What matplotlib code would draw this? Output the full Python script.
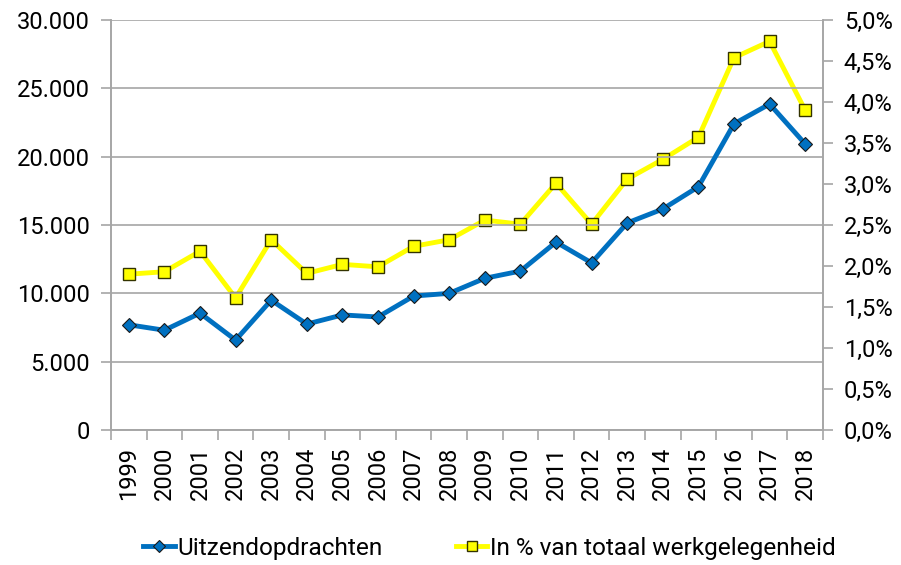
import matplotlib
matplotlib.use("Agg")
import matplotlib.pyplot as plt
from matplotlib.ticker import FuncFormatter, MultipleLocator
import numpy as np

plt.rcParams['font.family'] = ['Roboto', 'DejaVu Sans']

years = [str(y) for y in range(1999, 2019)]
uitzend = [7700, 7300, 8550, 6580, 9500, 7750, 8420, 8270, 9800, 10000,
           11100, 11630, 13750, 12230, 15150, 16170, 17800, 22400, 23850, 20930]
pct = [1.90, 1.93, 2.18, 1.61, 2.32, 1.91, 2.02, 1.99, 2.24, 2.32,
       2.56, 2.51, 3.01, 2.51, 3.06, 3.30, 3.57, 4.54, 4.74, 3.90]

grid_c = '#A6A6A6'
blue = '#0070C0'
yellow = '#FFFF00'
fs = 17

fig = plt.figure(figsize=(9.01, 5.65), dpi=100)
ax = fig.add_axes([111/901, 1-430/565, (823-111)/901, (430-20)/565])
ax2 = ax.twinx()

x = np.arange(len(years))
l2, = ax2.plot(x, pct, color=yellow, lw=3.5, marker='s', ms=9,
               mfc=yellow, mec='#333300', mew=1.0, zorder=3,
               label='In % van totaal werkgelegenheid')
l1, = ax.plot(x, uitzend, color=blue, lw=3.5, marker='D', ms=7.5,
              mfc=blue, mec='#1a1a1a', mew=0.8, zorder=3,
              label='Uitzendopdrachten')

ax.set_zorder(ax2.get_zorder() + 1)
ax.patch.set_visible(False)

ax.set_xlim(-0.5, len(years) - 0.5)
ax.set_ylim(0, 30000)
ax2.set_ylim(0, 5.0)
ax.yaxis.set_major_locator(MultipleLocator(5000))
ax2.yaxis.set_major_locator(MultipleLocator(0.5))
ax.yaxis.set_major_formatter(FuncFormatter(lambda v, p: f"{int(v):,}".replace(',', '.')))
ax2.yaxis.set_major_formatter(FuncFormatter(lambda v, p: f"{v:.1f}".replace('.', ',') + '%'))

ax.yaxis.grid(True, color=grid_c, lw=1.2)
ax.set_axisbelow(True)

ax.set_xticks(x)
ax.set_xticklabels(years, rotation=90, fontsize=fs)
ax.set_xticks(np.arange(-0.5, len(years)), minor=True)
ax.tick_params(axis='x', which='major', length=0, pad=12)
ax.tick_params(axis='x', which='minor', length=7, color=grid_c, width=1.2)
ax.tick_params(axis='y', length=7, color=grid_c, width=1.2, labelsize=fs, pad=8)
ax2.tick_params(axis='y', length=7, color=grid_c, width=1.2, labelsize=fs, pad=8)

for a in (ax, ax2):
    a.spines['top'].set_visible(False)
    for s in ['left', 'right', 'bottom']:
        a.spines[s].set_color(grid_c)
        a.spines[s].set_linewidth(1.2)

fig.legend(handles=[l1, l2], loc='center', bbox_to_anchor=(0.543, 1-548/565),
           ncol=2, frameon=False, fontsize=17.6, handlelength=1.3,
           handletextpad=0.1, columnspacing=3.0, markerscale=0.75)

fig.savefig('out.png', dpi=100)
